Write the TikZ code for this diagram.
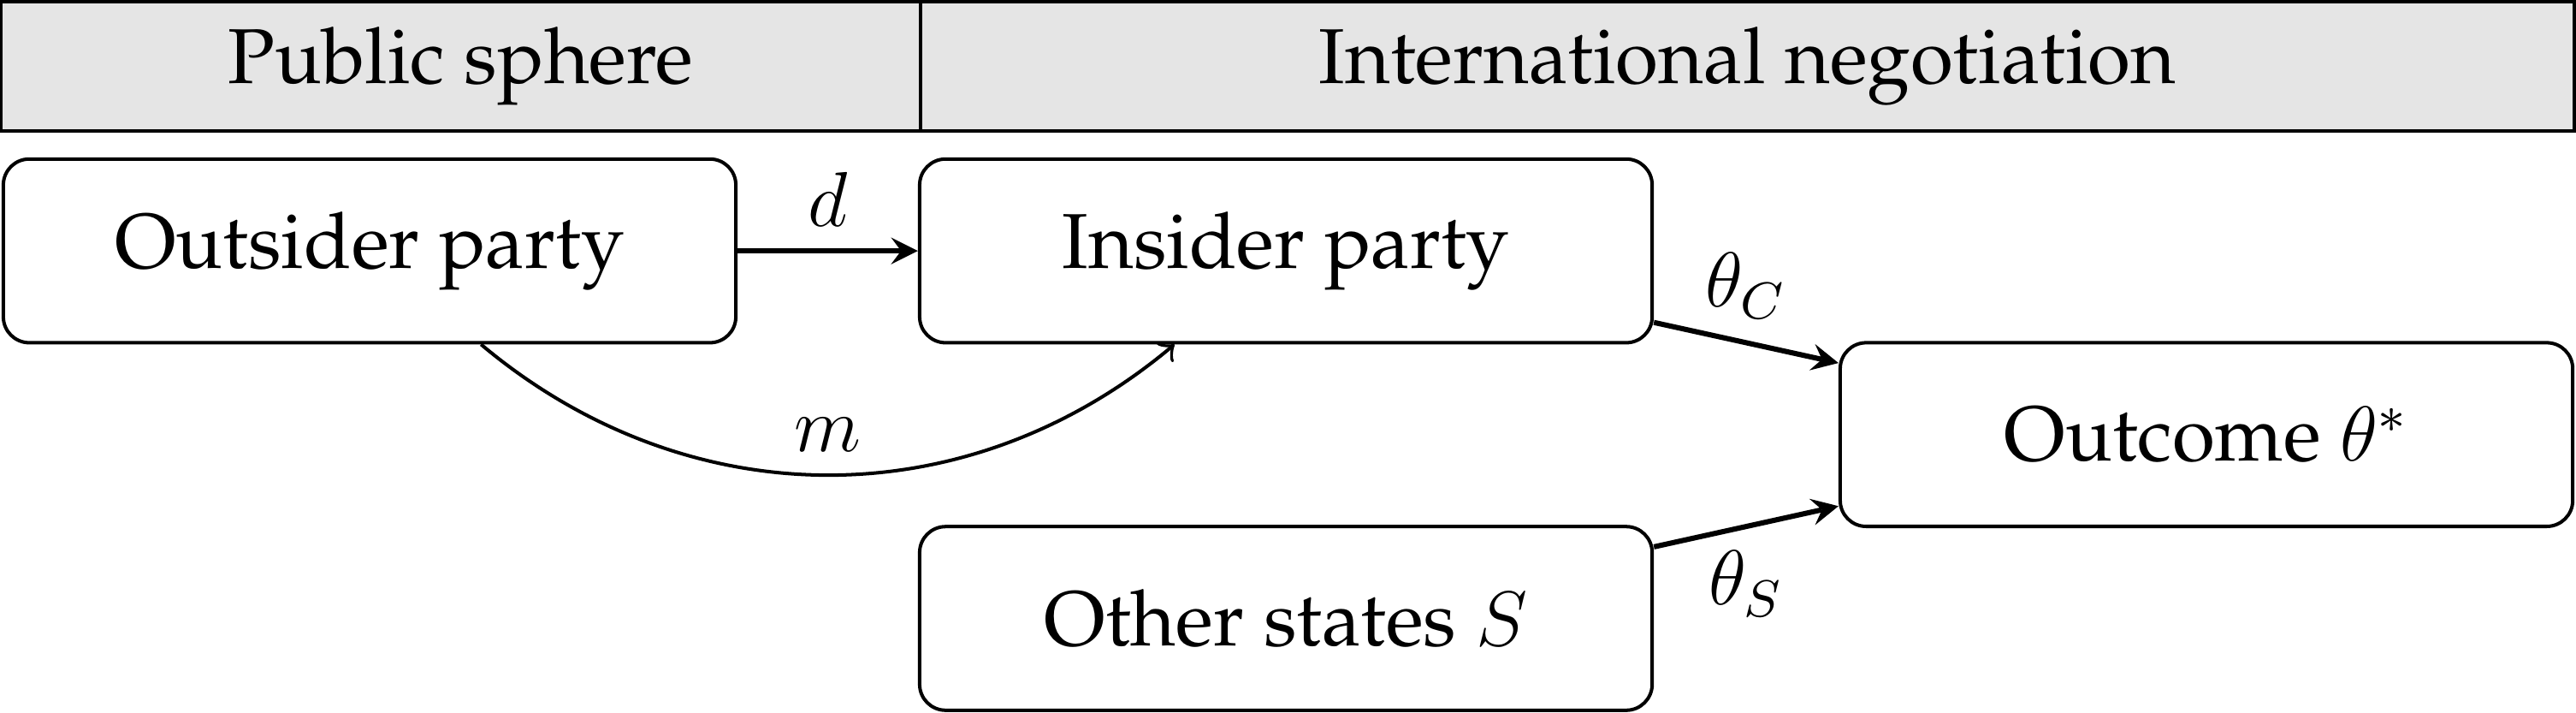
\documentclass[tikz,border=0pt]{standalone}
\usepackage[T1]{fontenc}
\renewcommand{\rmdefault}{ppl}
\usepackage{amssymb}
\usepackage{tikz}
\usepackage{xcolor}
\usetikzlibrary{arrows, calc}

\tikzset{
    actor/.style={draw, rounded corners, minimum width=3.97cm, minimum height=0.995cm, line width=0.53pt, font=\large},
    headcell/.style={draw, fill=black!10, minimum height=0.7cm, line width=0.53pt, font=\large},
    flow/.style={->, >=stealth, thick}
}

\begin{document}
\begin{tikzpicture}
                            \useasboundingbox (0, 0) rectangle (13.961, -3.858);
                            % header band
                            \node[headcell, minimum width=4.985cm] (public) at (2.497, -0.359) {Public sphere};
                            \node[headcell, minimum width=8.963cm] (negotiation) at (9.470, -0.359) {International negotiation};
                            % actors
                            \node[actor] (outsider) at (2.003, -1.359) {Outsider party};
                            \node[actor] (insider) at (6.969, -1.359) {Insider party};
                            \node[actor] (outcome) at (11.958, -2.354) {Outcome $\theta^*$};
                            \node[actor] (states) at (6.969, -3.350) {Other states $S$};
                            \draw
                            (outsider) edge[flow] node[above, font=\large] {$d$} (insider)
                            (insider.-11) edge[flow] node[above, font=\large] {$\theta_C$} (outcome.169)
                            (states.11) edge[flow] node[below, font=\large] {$\theta_S$} (outcome.-169);
                            \draw[->, line width=0.53pt] (outsider.-40) to[out=-40, in=-140] node[above, font=\large] {$m$} (insider.-140);
                        \end{tikzpicture}
\end{document}
